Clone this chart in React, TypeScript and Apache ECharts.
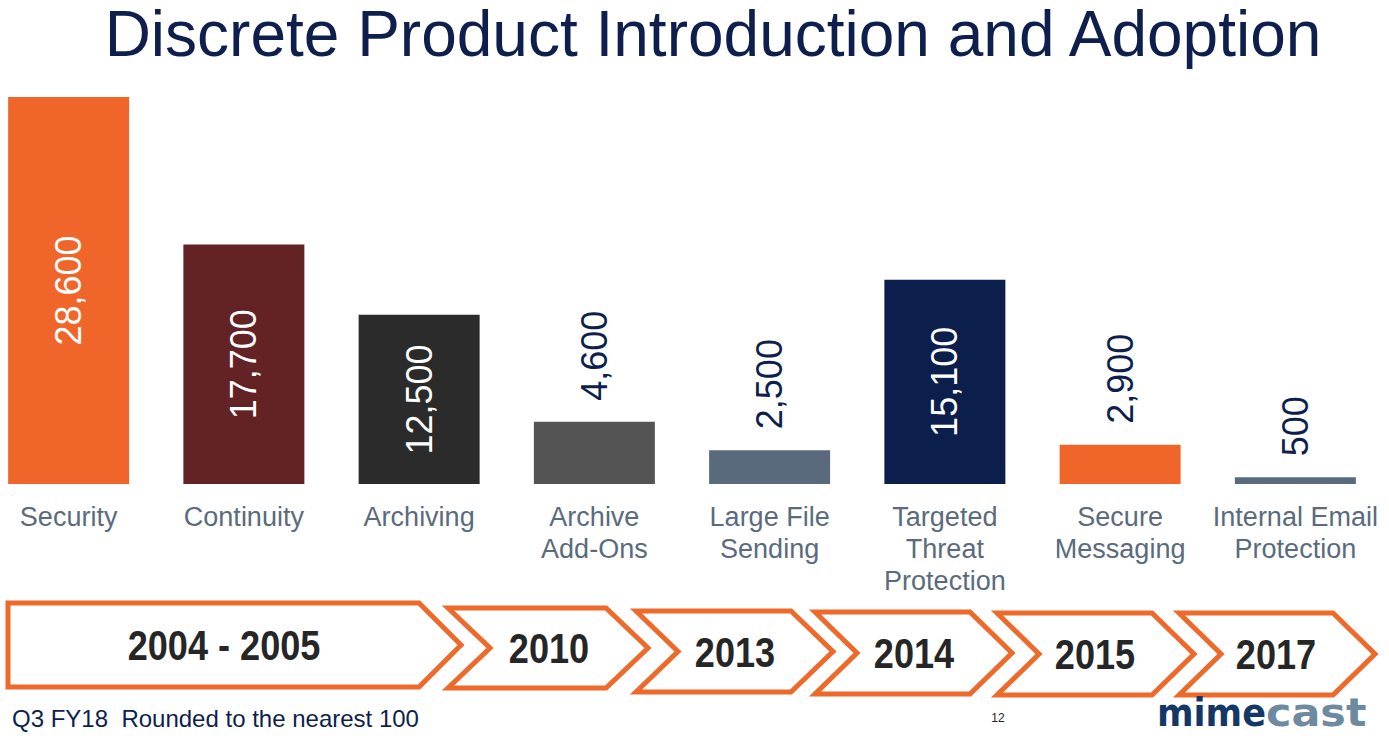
import React, { useEffect, useRef } from "react";
import * as echarts from "echarts";

const titleText = "Discrete Product Introduction and Adoption";
const categories = [
  "Security",
  "Continuity",
  "Archiving",
  "Archive\nAdd-Ons",
  "Large File\nSending",
  "Targeted\nThreat\nProtection",
  "Secure\nMessaging",
  "Internal Email\nProtection",
];
const customers = [28600, 17700, 12500, 4600, 2500, 15100, 2900, 500];
const barColors = ["#F0662A", "#632325", "#2B2B2B", "#545454", "#586A7C", "#0B1E4C", "#F0662A", "#586A7C"];
const years = ["2004 - 2005", "2010", "2013", "2014", "2015", "2017"];
const footnote = "Q3 FY18  Rounded to the nearest 100";
const pageNumber = "12";

// chevron layout (decorative timeline)
const chevronBoxes = [
  { x0: 8, tip: 461, top: 603, bot: 687, notch: false, tx: 224 },
  { x0: 448, tip: 648, top: 608, bot: 688, notch: true, tx: 549 },
  { x0: 636, tip: 833, top: 611, bot: 692, notch: true, tx: 735 },
  { x0: 815, tip: 1012, top: 612, bot: 694, notch: true, tx: 914 },
  { x0: 997, tip: 1194, top: 613, bot: 695, notch: true, tx: 1095 },
  { x0: 1179, tip: 1375, top: 613, bot: 695, notch: true, tx: 1276 },
];

const FONT = '"Liberation Sans", Arial, Helvetica, sans-serif';
const NAVY = "#0E1F4D";

export default function App() {
  const ref = useRef<HTMLDivElement>(null);
  useEffect(() => {
    if (!ref.current) return;
    const chart = echarts.init(ref.current, null, { renderer: "svg" });
    const depth = 42;
    const graphics: any[] = [];
    graphics.push({
      type: "text",
      x: 713,
      y: 34,
      style: {
        text: titleText,
        fontSize: 64,
        lineHeight: 64,
        fontFamily: FONT,
        fill: NAVY,
        align: "center",
        verticalAlign: "middle",
        textAlign: "center",
        textVerticalAlign: "middle",
      },
    });
    chevronBoxes.forEach((c, i) => {
      const mid = (c.top + c.bot) / 2;
      const pts = [
        [c.x0, c.top],
        [c.tip - depth, c.top],
        [c.tip, mid],
        [c.tip - depth, c.bot],
        [c.x0, c.bot],
      ];
      if (c.notch) pts.push([c.x0 + depth, mid]);
      graphics.push({
        type: "polygon",
        shape: { points: pts },
        style: { fill: "#ffffff", stroke: "#EE6A2A", lineWidth: 5, lineJoin: "miter" },
      });
      graphics.push({
        type: "text",
        x: c.tx,
        y: mid + 1,
        scaleX: 0.86,
        style: {
          text: years[i],
          fontSize: 42,
          fontWeight: "bold",
          fontFamily: FONT,
          fill: "#262626",
          align: "center",
          verticalAlign: "middle",
          textAlign: "center",
          textVerticalAlign: "middle",
        },
      });
    });
    graphics.push({
      type: "text",
      x: 12,
      y: 718,
      style: {
        text: footnote,
        fontSize: 24,
        fontFamily: FONT,
        fill: NAVY,
        align: "left",
        verticalAlign: "middle",
        textAlign: "left",
        textVerticalAlign: "middle",
      },
    });
    graphics.push({
      type: "text",
      x: 998,
      y: 718,
      style: {
        text: pageNumber,
        fontSize: 12,
        fontFamily: FONT,
        fill: "#222222",
        align: "center",
        verticalAlign: "middle",
        textAlign: "center",
        textVerticalAlign: "middle",
      },
    });
    graphics.push({
      type: "text",
      x: 1157,
      y: 713,
      scaleX: 0.9,
      style: {
        text: "mime",
        fontSize: 39,
        fontWeight: "bold",
        fontFamily: '"DejaVu Sans", sans-serif',
        fill: "#143767",
        align: "left",
        verticalAlign: "middle",
        textAlign: "left",
        textVerticalAlign: "middle",
      },
    });
    graphics.push({
      type: "text",
      x: 1266,
      y: 713,
      scaleX: 1.1,
      style: {
        text: "cast",
        fontSize: 39,
        fontWeight: "bold",
        fontFamily: '"DejaVu Sans", sans-serif',
        fill: "#6E8AA0",
        align: "left",
        verticalAlign: "middle",
        textAlign: "left",
        textVerticalAlign: "middle",
      },
    });

    chart.setOption({
      animation: false,
      grid: { left: -19, top: 97, width: 1402, height: 387, containLabel: false, outerBoundsMode: "none" },
      xAxis: {
        type: "category",
        data: categories,
        axisLine: { show: false },
        axisTick: { show: false },
        axisLabel: {
          interval: 0,
          color: "#5A6B7D",
          fontSize: 27,
          lineHeight: 32,
          fontFamily: FONT,
          margin: 17,
          align: "center",
        },
      },
      yAxis: {
        type: "value",
        min: 0,
        max: 28600,
        show: false,
        splitLine: { show: false },
      },
      series: [
        {
          type: "bar",
          barWidth: 121,
          data: customers.map((v, i) => {
            const inside = v >= 10000;
            return {
              value: v,
              itemStyle: { color: barColors[i] },
              label: inside
                ? {
                    show: true,
                    position: "inside",
                    rotate: 90,
                    align: "center",
                    verticalAlign: "middle",
                    color: "#ffffff",
                  }
                : {
                    show: true,
                    position: "top",
                    rotate: 90,
                    align: "left",
                    verticalAlign: "middle",
                    distance: 21,
                    color: NAVY,
                  },
            };
          }),
          label: {
            show: true,
            fontSize: 36,
            fontFamily: FONT,
            formatter: (p: any) => Number(p.value).toLocaleString("en-US"),
          },
        },
      ],
      graphic: graphics,
    });
    return () => chart.dispose();
  }, []);
  return (
    <div
      ref={ref}
      style={{ position: "absolute", left: 0, top: 0, width: 1389, height: 738, background: "#ffffff" }}
    />
  );
}
